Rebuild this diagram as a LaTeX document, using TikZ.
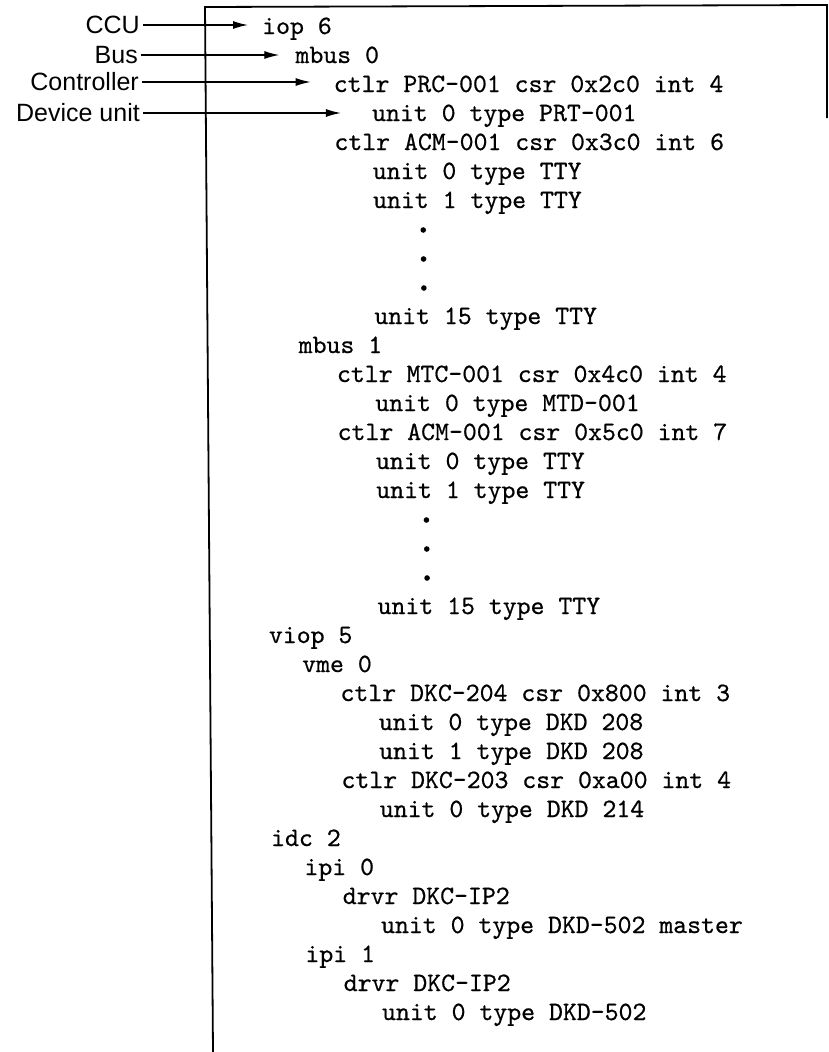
\documentclass[tikz,border=0pt]{standalone}
\usepackage{fontspec}
\setsansfont{Liberation Sans}
\setmonofont{lmmono10-regular}[Extension=.otf, FakeBold=0.6]
\usetikzlibrary{arrows.meta}

\tikzset{
  listing/.style={font=\ttfamily\fontsize{26.5}{29}\selectfont, anchor=west,
    inner sep=0pt, text height=14pt, text depth=0pt},
  tag/.style={font=\sffamily\fontsize{25}{28}\selectfont, anchor=east,
    inner xsep=3pt, inner ysep=0pt},
  tagarrow/.style={line width=1.3pt, -{Latex[length=15pt,width=8pt]}},
  frame/.style={line width=1.8pt}
}

\begin{document}
\begin{tikzpicture}[x=1pt, y=-1pt]

  \useasboundingbox (0,0) rectangle (828,1052);

  \def\dotradius{2.8pt}

  \draw[frame] (827,118) -- (827,5) -- (205,7) -- (213,1052);

  \foreach \i/\lvl/\txt in {0/0/iop 6, 1/1/mbus 0,
      2/2/ctlr PRC-001 csr 0x2c0 int 4, 3/3/unit 0 type PRT-001,
      4/2/ctlr ACM-001 csr 0x3c0 int 6, 5/3/unit 0 type TTY,
      6/3/unit 1 type TTY, 10/3/unit 15 type TTY,
      11/1/mbus 1, 12/2/ctlr MTC-001 csr 0x4c0 int 4,
      13/3/unit 0 type MTD-001, 14/2/ctlr ACM-001 csr 0x5c0 int 7,
      15/3/unit 0 type TTY, 16/3/unit 1 type TTY, 20/3/unit 15 type TTY,
      21/0/viop 5, 22/1/vme 0, 23/2/ctlr DKC-204 csr 0x800 int 3,
      24/3/unit 0 type DKD 208, 25/3/unit 1 type DKD 208,
      26/2/ctlr DKC-203 csr 0xa00 int 4, 27/3/unit 0 type DKD 214,
      28/0/idc 2, 29/1/ipi 0, 30/2/drvr DKC-IP2,
      31/3/unit 0 type DKD-502 master, 32/1/ipi 1, 33/2/drvr DKC-IP2,
      34/3/unit 0 type DKD-502} {
    \pgfmathsetmacro\xx{262+{0,33,71,109}[\lvl]+0.32*\i}
    \node[listing] (l\i) at (\xx, {27+29*\i}) {\txt};
  }

  \foreach \i in {7,8,9,17,18,19} {
    \fill ({421+0.32*\i}, {27+29*\i}) circle (\dotradius);
  }

  \node[tag] (ccu) at (143,25) {CCU};
  \node[tag] (bus) at (141,55) {Bus};
  \node[tag] (ctlr) at (142,82) {Controller};
  \node[tag] (dev) at (143,113) {Device unit};

  \draw[tagarrow, shorten >=14pt] (ccu.east) -- (ccu.east -| l0.west);
  \draw[tagarrow, shorten >=16pt] (bus.east) -- (bus.east -| l1.west);
  \draw[tagarrow, shorten >=23pt] (ctlr.east) -- (ctlr.east -| l2.west);
  \draw[tagarrow, shorten >=31pt] (dev.east) -- (dev.east -| l3.west);

\end{tikzpicture}
\end{document}
